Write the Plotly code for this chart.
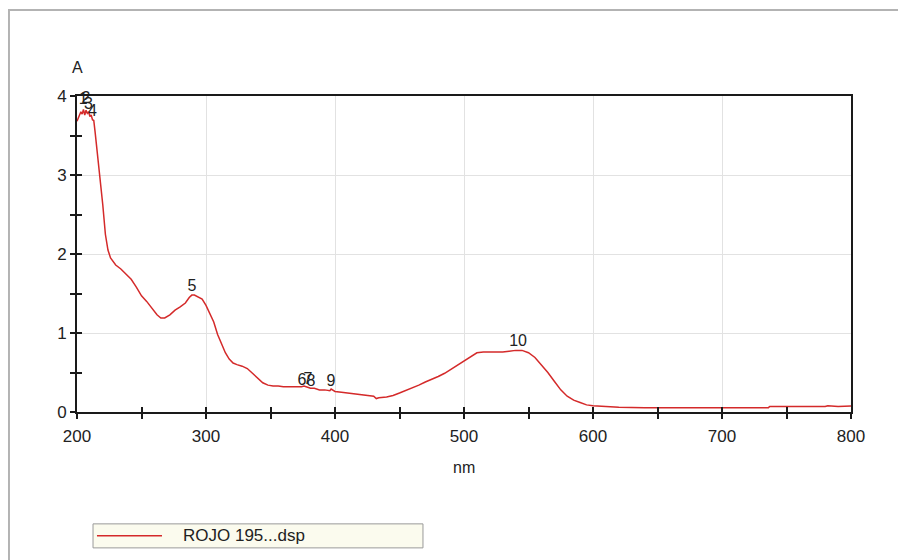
import plotly.graph_objects as go

# ---------------- data ----------------
series_name = "ROJO 195...dsp"

wavelength_nm = [200, 201, 202, 203, 204, 205, 206, 207, 208, 209, 210, 211, 212, 213, 214,
                 216, 218, 220, 222, 224, 226, 228, 230, 234, 238, 242, 246, 250, 254, 258,
                 262, 265, 268, 272, 276, 280, 284, 287, 289, 291, 294, 297, 300, 303, 306,
                 309, 312, 315, 318, 321, 324, 328, 332, 336, 340, 344, 348, 352, 356, 360,
                 365, 370, 374, 376, 379, 381, 384, 388, 392, 396, 397, 400, 405, 410, 415,
                 420, 425, 430, 432, 434, 440, 445, 450, 455, 460, 465, 470, 475, 480, 485,
                 490, 495, 500, 505, 510, 515, 520, 525, 530, 535, 540, 545, 550, 555, 560,
                 565, 570, 575, 580, 585, 590, 595, 600, 605, 610, 620, 640, 660, 680, 700,
                 720, 736, 737, 740, 760, 780, 782, 790, 800]

absorbance = [3.68, 3.72, 3.76, 3.80, 3.77, 3.83, 3.76, 3.82, 3.78, 3.80, 3.74, 3.76, 3.70, 3.69, 3.55,
              3.25, 2.95, 2.62, 2.25, 2.05, 1.95, 1.90, 1.86, 1.81, 1.75, 1.68, 1.58, 1.47, 1.40, 1.31,
              1.23, 1.19, 1.19, 1.23, 1.29, 1.33, 1.38, 1.45, 1.48, 1.48, 1.46, 1.43, 1.35, 1.24, 1.14,
              0.98, 0.86, 0.75, 0.67, 0.62, 0.60, 0.58, 0.55, 0.49, 0.42, 0.37, 0.34, 0.33, 0.33, 0.32,
              0.32, 0.32, 0.32, 0.33, 0.31, 0.30, 0.30, 0.28, 0.28, 0.27, 0.29, 0.26, 0.25, 0.24, 0.23,
              0.22, 0.21, 0.20, 0.17, 0.18, 0.19, 0.21, 0.24, 0.27, 0.30, 0.34, 0.38, 0.41, 0.45, 0.49,
              0.54, 0.59, 0.65, 0.70, 0.75, 0.76, 0.76, 0.76, 0.76, 0.77, 0.78, 0.78, 0.75, 0.69, 0.60,
              0.50, 0.39, 0.28, 0.20, 0.15, 0.12, 0.09, 0.08, 0.075, 0.07, 0.06, 0.055, 0.055, 0.055, 0.055,
              0.055, 0.055, 0.07, 0.07, 0.07, 0.07, 0.08, 0.07, 0.075]

peak_labels = ["1", "2", "3", "4", "5", "6", "7", "8", "9", "10"]
peak_nm = [204.9, 206.9, 208.8, 211.9, 289.1, 374.4, 379.0, 381.4, 396.9, 541.9]
peak_abs = [3.85, 3.86, 3.79, 3.70, 1.48, 0.29, 0.30, 0.28, 0.28, 0.785]

x_title = "nm"
y_title = "A"

# ---------------- figure ----------------
FONT = "Liberation Sans, Arial, sans-serif"
RED = "#d42a2a"
AXIS = "#1a1a1a"
TXT = "#222222"

fig = go.Figure()

fig.add_trace(go.Scatter(x=wavelength_nm, y=absorbance, mode="lines", name=series_name,
                         line=dict(color=RED, width=1.5), showlegend=False))

fig.add_trace(go.Scatter(x=peak_nm, y=peak_abs, mode="text", text=peak_labels,
                         textposition="top center", cliponaxis=False,
                         textfont=dict(family=FONT, size=16, color=TXT),
                         showlegend=False, hoverinfo="skip"))

# empty trace to activate overlay axes for inward tick halves
fig.add_trace(go.Scatter(x=[None], y=[None], xaxis="x2", yaxis="y2",
                         showlegend=False, hoverinfo="skip"))

fig.update_layout(
    width=906, height=560, autosize=False,
    margin=dict(l=69, r=63, t=88, b=156),
    paper_bgcolor="white", plot_bgcolor="white",
    font=dict(family=FONT, size=17, color=TXT),
    showlegend=False,
    xaxis=dict(range=[200, 800], tick0=200, dtick=100, ticks="outside", ticklen=5,
               tickwidth=1.5, tickcolor=AXIS, showgrid=True, gridcolor="#e2e2e2", gridwidth=1,
               showline=True, linecolor=AXIS, linewidth=2, mirror=True, zeroline=False,
               tickfont=dict(size=17, color=TXT), ticklabelstandoff=3,
               minor=dict(dtick=50, tick0=200, ticks="outside", ticklen=5, tickwidth=1.5,
                          tickcolor=AXIS, showgrid=False)),
    yaxis=dict(range=[0, 4], tick0=0, dtick=1, ticks="outside", ticklen=5,
               tickwidth=1.5, tickcolor=AXIS, showgrid=True, gridcolor="#e2e2e2", gridwidth=1,
               showline=True, linecolor=AXIS, linewidth=2, mirror=True, zeroline=False,
               tickfont=dict(size=17, color=TXT), ticklabelstandoff=0,
               minor=dict(dtick=0.5, tick0=0, ticks="outside", ticklen=5, tickwidth=1.5,
                          tickcolor=AXIS, showgrid=False)),
    xaxis2=dict(overlaying="x", anchor="y2", side="bottom", range=[200, 800], tick0=200, dtick=50,
                ticks="inside", ticklen=5, tickwidth=1.5, tickcolor=AXIS, showticklabels=False,
                showgrid=False, showline=False, zeroline=False),
    yaxis2=dict(overlaying="y", anchor="x2", side="left", range=[0, 4], tick0=0, dtick=0.5,
                ticks="inside", ticklen=5, tickwidth=1.5, tickcolor=AXIS, showticklabels=False,
                showgrid=False, showline=False, zeroline=False),
)

# axis titles
fig.add_annotation(text=y_title, xref="paper", yref="paper", x=0.001, y=1.089,
                   xanchor="center", yanchor="middle", showarrow=False,
                   font=dict(family=FONT, size=16, color=TXT))
fig.add_annotation(text=x_title, xref="paper", yref="paper", x=0.5, y=-0.177,
                   xanchor="center", yanchor="middle", showarrow=False,
                   font=dict(family=FONT, size=16, color=TXT))

# outer frame
fig.add_shape(type="rect", xref="paper", yref="paper", x0=-0.0879, x1=1.1, y0=-0.7, y1=1.272,
              line=dict(color="#b3b3b3", width=2), fillcolor="rgba(0,0,0,0)", layer="below")

# manual legend
fig.add_shape(type="rect", xref="paper", yref="paper", x0=0.0207, x1=0.447, y0=-0.430, y1=-0.354,
              line=dict(color="#9a9a9a", width=1), fillcolor="#fbfbee")
fig.add_shape(type="line", xref="paper", yref="paper", x0=0.0258, x1=0.1098, y0=-0.392, y1=-0.392,
              line=dict(color=RED, width=1.5))
fig.add_annotation(text=series_name, xref="paper", yref="paper", x=0.134, y=-0.392,
                   xanchor="left", yanchor="middle", showarrow=False,
                   font=dict(family=FONT, size=17, color=TXT))

fig.write_html("out.html")
